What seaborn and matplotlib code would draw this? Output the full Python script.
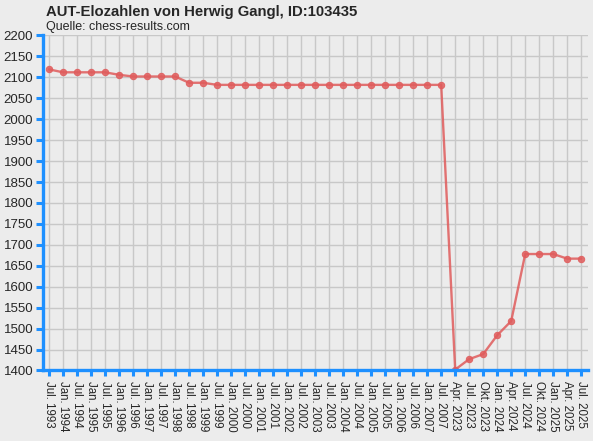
import matplotlib
matplotlib.use("Agg")
import matplotlib.pyplot as plt
import numpy as np
import pandas as pd
import seaborn as sns

# Rating periods and values
periods = ["Jul. 1993"]
for year in range(1994, 2008):
    periods += [f"Jan. {year}", f"Jul. {year}"]
periods += ["Apr. 2023", "Jul. 2023", "Okt. 2023", "Jan. 2024", "Apr. 2024",
            "Jul. 2024", "Okt. 2024", "Jan. 2025", "Apr. 2025", "Jul. 2025"]

elo = [2119, 2112, 2112, 2112, 2112, 2106, 2102, 2102, 2102, 2102,
       2087, 2087, 2082, 2082, 2082, 2082, 2082, 2082, 2082, 2082,
       2082, 2082, 2082, 2082, 2082, 2082, 2082, 2082, 2082,
       1402, 1427, 1439, 1484, 1518, 1678, 1678, 1678, 1667, 1667]

title = "AUT-Elozahlen von Herwig Gangl, ID:103435"
subtitle = "Quelle: chess-results.com"

BG = "#ECECEC"
BLUE = "#1E90FF"
RED = "#E05C5C"

sns.set_theme(style="whitegrid", rc={
    "axes.facecolor": BG,
    "figure.facecolor": BG,
    "grid.color": "#C8C8C8",
    "grid.linewidth": 1.0,
})
plt.rcParams["font.family"] = ["Liberation Sans", "DejaVu Sans"]

df = pd.DataFrame({"pos": np.arange(len(periods)), "elo": elo})

fig = plt.figure(figsize=(5.93, 4.41), dpi=100)
ax = fig.add_axes([0.0725, 0.160, 0.919, 0.7596])

sns.lineplot(data=df, x="pos", y="elo", ax=ax, color=RED, alpha=0.85,
             linewidth=1.7, marker="o", markersize=4.6,
             markeredgecolor=RED, markerfacecolor=RED)

ax.set_xlim(-0.43, len(periods) - 1 + 0.48)
ax.set_ylim(1400, 2200)
ax.set_yticks(np.arange(1400, 2201, 50))
ax.set_xticks(df["pos"])
ax.set_xticklabels(periods, rotation=-90, fontsize=8.3)
ax.tick_params(axis="y", labelsize=9.5, length=5, width=2.2, color=BLUE, pad=2,
               left=True)
ax.tick_params(axis="x", length=4.5, width=2.2, color=BLUE, pad=3, bottom=True)
ax.set_xlabel("")
ax.set_ylabel("")

for side in ["top", "right"]:
    ax.spines[side].set_visible(False)
for side in ["left", "bottom"]:
    ax.spines[side].set_visible(True)
    ax.spines[side].set_color(BLUE)
    ax.spines[side].set_linewidth(2.4)

fig.text(46 / 593, 1 - 12 / 441, title, fontsize=10.7, fontweight="bold",
         va="center", ha="left")
fig.text(46 / 593, 1 - 27 / 441, subtitle, fontsize=9, va="center", ha="left")

fig.savefig("out.png", dpi=100, facecolor=BG)
